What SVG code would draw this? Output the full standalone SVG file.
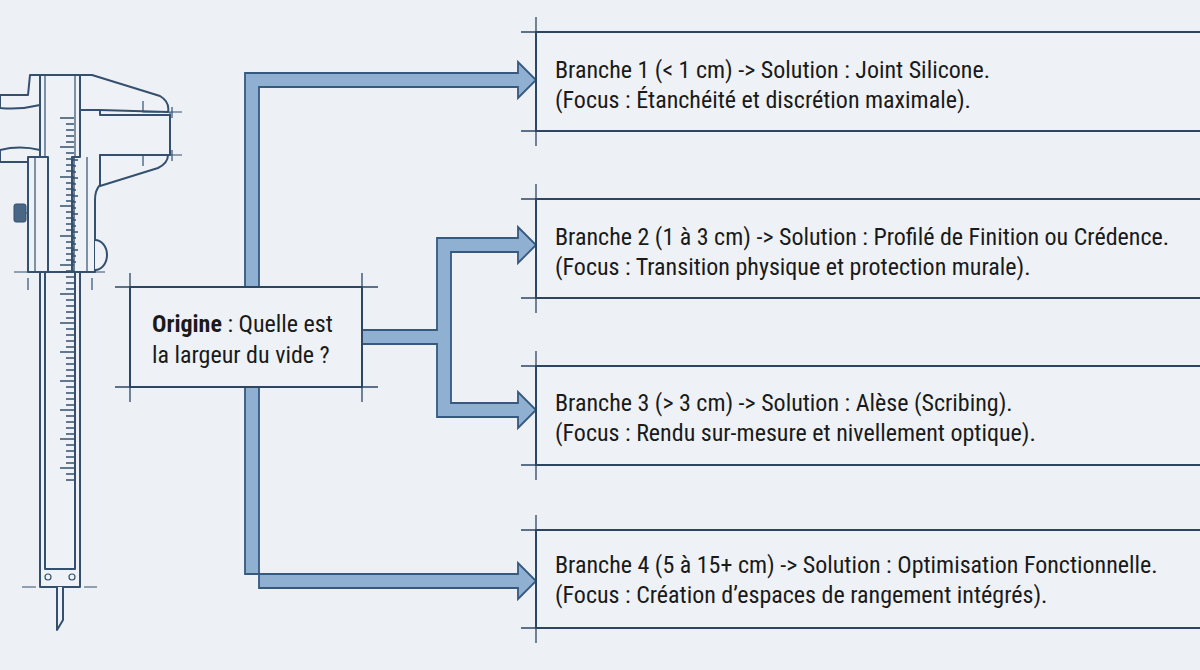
<svg xmlns="http://www.w3.org/2000/svg" width="1200" height="670" viewBox="0 0 1200 670">
<style>
.bg{fill:#edf1f5}
.box{fill:#eef2f6;stroke:#2c4763;stroke-width:2}
.ext{stroke:#2c4763;stroke-width:1.3;fill:none}
.cal{fill:#eef2f6;stroke:#34506e;stroke-width:2;stroke-linejoin:round}
.thin{stroke:#34506e;stroke-width:1.2;fill:none}
.pipe{fill:#90b0d2;stroke:#35597f;stroke-width:1.8;stroke-linejoin:miter}
.t{font-family:"Liberation Sans Narrow","Roboto Condensed","Liberation Sans",sans-serif;font-size:24px;fill:#1a1a1a}
</style>
<rect class="bg" width="1200" height="670"/>
<g id="caliper">
<path class="cal" d="M0,95 L28,95 L30,75 L92,75 L160,96 Q170,102 168,112 L100,110 L78,110 L78,118 L44,118 L40,105 Q20,110 0,108 Z"/>
<path class="cal" d="M0,150 Q20,145 40,150 L44,157 L40,162 L0,162 Z"/>
<path class="cal" d="M40,75 L80,75 L80,587 L40,587 Z"/>
<path class="thin" d="M45,75 V157 M75,75 V157"/>
<rect class="cal" x="45" y="272" width="30" height="297" fill="none"/>
<circle class="thin" cx="48" cy="577" r="3"/>
<circle class="thin" cx="72" cy="577" r="3"/>
<path class="cal" d="M57,587 V630 L63,620 V587"/>
<path class="cal" d="M80,110 L100,110 L100,115 L170,115 L170,155 L100,155 L100,160 L100,185 Q95,190 95,200 L95,272 L72,272 L72,157 L80,157 Z"/>
<path class="cal" d="M100,155 L168,155 Q168,163 158,168 L100,186 Z"/>
<path class="thin" d="M143,101 V112 L160,112 M143,166 V155 L160,155 M170,112 V155 M165,112 H182 M165,155 H182 M172,107 V118 M172,150 V161"/>
<rect class="cal" x="28" y="157" width="20" height="115"/>
<path class="thin" d="M35,157 V272 M87,157 V272 M14,272 H48 M72,272 H105 M28,278 V290 M92,278 V290"/>
<path class="cal" d="M95,240 A12,15 0 0 1 95,270"/>
<rect x="14" y="204" width="12" height="18" rx="2" fill="#4a6685" stroke="#34506e"/>
<path class="thin" d="M26,213 H28"/>
<path class="thin" d="M22,587 H36 M84,587 H97"/>
<g stroke="#34506e" stroke-width="1.4">
<path d="M60,118H74M66,124H74M66,130H74M66,136H74M66,142H74M60,147H74M66,153H74M66,159H74M66,165H74M66,171H74M60,177H74M66,183H74M66,189H74M66,195H74M66,201H74M60,206H74M66,212H74M66,218H74M66,224H74M66,230H74M60,236H74M66,242H74M66,248H74M66,254H74M66,260H74M60,265H74M66,271H74M66,277H74M66,283H74M66,289H74M60,294H74M66,300H74M66,306H74M66,312H74M66,318H74M60,323H74M66,329H74M66,335H74M66,341H74M66,347H74M60,352H74M66,358H74M66,364H74M66,370H74M66,376H74M60,381H74M66,387H74M66,393H74M66,399H74M66,405H74M60,410H74M66,416H74M66,422H74M66,428H74M66,434H74M60,439H74M66,445H74M66,451H74M66,457H74M66,463H74M60,468H74M66,474H74M66,480H74"/>
<path d="M74,157V272M72,160H78M72,166H76M72,172H76M72,178H78M72,184H76M72,190H76M72,196H78M72,202H76M72,208H76M72,214H78M72,220H76M72,226H76M72,232H78M72,238H76M72,244H76M72,250H78M72,256H76M72,262H76"/>
</g>
</g>
<g id="connectors">
<path class="pipe" d="M245,287 V73 H518 V62 L536,80 L518,98 V87 H259 V287 Z"/>
<path class="pipe" d="M245,387 V574 H518 V563 L536,581 L518,599 V588 H259 V387 Z"/>
<path class="pipe" d="M362,330 H437 V238 H518 V227 L536,245 L518,263 V252 H451 V403 H518 V392 L536,410 L518,428 V417 H437 V344 H362 Z"/>
</g>
<g id="origin">
<rect class="box" x="130" y="287" width="232" height="100"/>
<path class="ext" d="M115,287H378M115,387H378M130,273V402M362,273V402"/>
<text class="t" x="152" y="332"><tspan font-weight="bold">Origine</tspan> : Quelle est</text>
<text class="t" x="152" y="363">la largeur du vide ?</text>
</g>
<g id="b1">
<rect class="box" x="536" y="32" width="680" height="99"/>
<path class="ext" d="M521,32H1200M521,131H1200M536,17V146"/>
<text class="t" x="555" y="78">Branche 1 (&lt; 1 cm) -&gt; Solution : Joint Silicone.</text>
<text class="t" x="555" y="108">(Focus : Étanchéité et discrétion maximale).</text>
</g>
<g id="b2">
<rect class="box" x="536" y="199" width="680" height="99"/>
<path class="ext" d="M521,199H1200M521,298H1200M536,184V313"/>
<text class="t" x="555" y="245">Branche 2 (1 à 3 cm) -&gt; Solution : Profilé de Finition ou Crédence.</text>
<text class="t" x="555" y="275">(Focus : Transition physique et protection murale).</text>
</g>
<g id="b3">
<rect class="box" x="536" y="366" width="680" height="99"/>
<path class="ext" d="M521,366H1200M521,465H1200M536,351V480"/>
<text class="t" x="555" y="411">Branche 3 (&gt; 3 cm) -&gt; Solution : Alèse (Scribing).</text>
<text class="t" x="555" y="441">(Focus : Rendu sur-mesure et nivellement optique).</text>
</g>
<g id="b4">
<rect class="box" x="536" y="530" width="680" height="98"/>
<path class="ext" d="M521,530H1200M521,628H1200M536,515V643"/>
<text class="t" x="555" y="573">Branche 4 (5 à 15+ cm) -&gt; Solution : Optimisation Fonctionnelle.</text>
<text class="t" x="555" y="603">(Focus : Création d’espaces de rangement intégrés).</text>
</g>
</svg>
